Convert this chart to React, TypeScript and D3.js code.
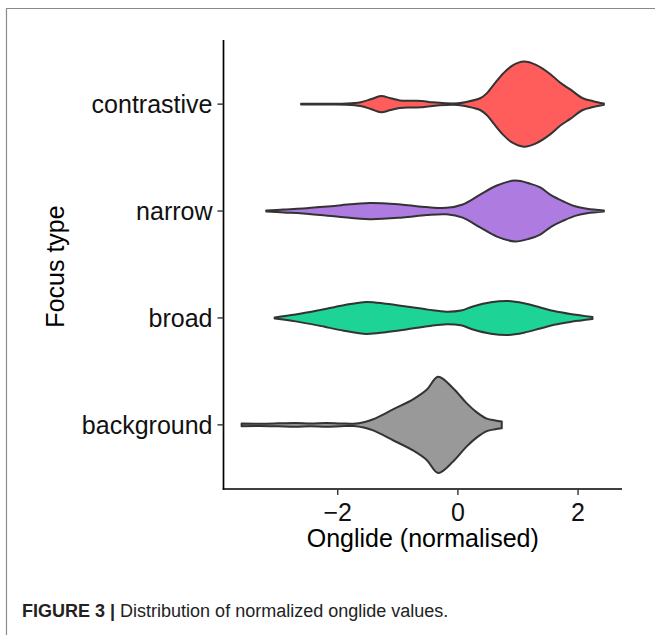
import React from "react";
import * as d3 from "d3";

// Categories, top to bottom
const categories = ["contrastive", "narrow", "broad", "background"];
const fills = ["#FF5C5C", "#AE7BE1", "#1ED396", "#999999"];

// Violin density profiles: onglide value and relative density (1 = widest)
const contrastiveValue = [-2.61, -2.2, -1.85, -1.62, -1.45, -1.28, -1.12, -0.97, -0.78, -0.6, -0.42, -0.2, 0.0, 0.14, 0.37, 0.48, 0.6, 0.75, 0.9, 1.1, 1.3, 1.53, 1.7, 1.87, 2.08, 2.25, 2.43];
const contrastiveDensity = [0.006, 0.008, 0.012, 0.04, 0.1, 0.168, 0.122, 0.078, 0.07, 0.067, 0.037, 0.017, 0.017, 0.045, 0.122, 0.224, 0.41, 0.633, 0.796, 0.884, 0.816, 0.633, 0.45, 0.306, 0.122, 0.061, 0.012];

const narrowValue = [-3.19, -2.9, -2.58, -2.02, -1.47, -0.92, -0.52, -0.19, 0.08, 0.37, 0.65, 0.95, 1.2, 1.37, 1.55, 1.75, 1.95, 2.15, 2.43];
const narrowDensity = [0.01, 0.03, 0.051, 0.112, 0.169, 0.133, 0.082, 0.067, 0.137, 0.341, 0.531, 0.633, 0.57, 0.49, 0.33, 0.204, 0.1, 0.047, 0.01];

const broadValue = [-3.05, -2.7, -2.3, -1.9, -1.52, -1.2, -0.86, -0.5, -0.19, 0.05, 0.25, 0.55, 0.84, 1.1, 1.37, 1.6, 1.87, 2.05, 2.24];
const broadDensity = [0.01, 0.071, 0.163, 0.265, 0.333, 0.296, 0.239, 0.173, 0.129, 0.153, 0.239, 0.327, 0.353, 0.306, 0.218, 0.143, 0.082, 0.051, 0.02];

const backgroundValue = [-3.6, -3.3, -3.0, -2.7, -2.45, -2.19, -1.95, -1.74, -1.55, -1.41, -1.08, -0.74, -0.52, -0.33, -0.08, 0.14, 0.31, 0.48, 0.62, 0.73];
const backgroundDensity = [0.027, 0.024, 0.031, 0.041, 0.029, 0.041, 0.029, 0.024, 0.061, 0.116, 0.32, 0.537, 0.729, 1.0, 0.763, 0.457, 0.265, 0.129, 0.092, 0.071];

const values = [contrastiveValue, narrowValue, broadValue, backgroundValue];
const densities = [contrastiveDensity, narrowDensity, broadDensity, backgroundDensity];

const xTicks = [-2, 0, 2];
const xTickLabels = ["\u22122", "0", "2"];
const xTitle = "Onglide (normalised)";
const yTitle = "Focus type";
const captionBold = "FIGURE 3 |";
const captionText = "Distribution of normalized onglide values.";

const W = 655;
const H = 635;
const left = 223.5;
const right = 622;
const top = 40;
const bottom = 489;
const FONT = "'Liberation Sans', Arial, Helvetica, sans-serif";
const FS = 25;

export default function App() {
  const allVals = values.flat();
  const lo = d3.min(allVals) as number;
  const hi = d3.max(allVals) as number;
  const pad = (hi - lo) * 0.05;
  const x = d3.scaleLinear().domain([lo - pad, hi + pad]).range([left, right]);
  const y = d3.scalePoint<string>().domain(categories).range([top, bottom]).padding(0.6);
  const step = y.step();
  const maxD = d3.max(densities.flat()) as number;
  const w = d3.scaleLinear().domain([0, maxD]).range([0, step * 0.45]);

  const violins = categories.map((c, i) => {
    const cy = y(c) as number;
    const pts = values[i].map((v, j) => ({ v, d: densities[i][j] }));
    const area = d3
      .area<{ v: number; d: number }>()
      .x((p) => x(p.v))
      .y0((p) => cy - w(p.d))
      .y1((p) => cy + w(p.d))
      .curve(d3.curveCatmullRom.alpha(0.5));
    return (
      <path
        key={c}
        d={area(pts) || ""}
        fill={fills[i]}
        stroke="#333333"
        strokeWidth={2}
        strokeLinejoin="round"
      />
    );
  });

  return (
    <svg
      width={W}
      height={H}
      style={{ position: "absolute", left: 0, top: 0, background: "#fff" }}
      fontFamily={FONT}
    >
      <rect x={0} y={0} width={W} height={H} fill="#fff" />
      {/* figure frame */}
      <path d={`M6.5,${H} V8.5 H${W}`} fill="none" stroke="#8a8a8a" strokeWidth={1.2} />

      {violins}

      {/* axes */}
      <line x1={left} x2={left} y1={top} y2={bottom + 0.8} stroke="#000" strokeWidth={1.7} />
      <line x1={left - 0.8} x2={right} y1={bottom} y2={bottom} stroke="#000" strokeWidth={1.7} />

      {categories.map((c) => (
        <g key={c}>
          <line x1={left - 6} x2={left} y1={y(c)} y2={y(c)} stroke="#333" strokeWidth={1.4} />
          <text
            x={left - 11}
            y={y(c)}
            dy="0.35em"
            textAnchor="end"
            fontSize={FS}
            fill="#111"
          >
            {c}
          </text>
        </g>
      ))}

      {xTicks.map((t, i) => (
        <g key={t}>
          <line x1={x(t)} x2={x(t)} y1={bottom} y2={bottom + 6} stroke="#333" strokeWidth={1.4} />
          <text x={x(t)} y={521} textAnchor="middle" fontSize={FS} fill="#111">
            {xTickLabels[i]}
          </text>
        </g>
      ))}

      <text x={(left + right) / 2} y={547} textAnchor="middle" fontSize={FS} fill="#000">
        {xTitle}
      </text>
      <text
        transform={`translate(64,${(top + bottom) / 2 + 2}) rotate(-90)`}
        textAnchor="middle"
        fontSize={FS}
        fill="#000"
      >
        {yTitle}
      </text>

      {/* caption */}
      <text x={22} y={617} fontSize={18} fill="#222">
        <tspan fontWeight="bold">{captionBold}</tspan>
        <tspan> {captionText}</tspan>
      </text>
    </svg>
  );
}
